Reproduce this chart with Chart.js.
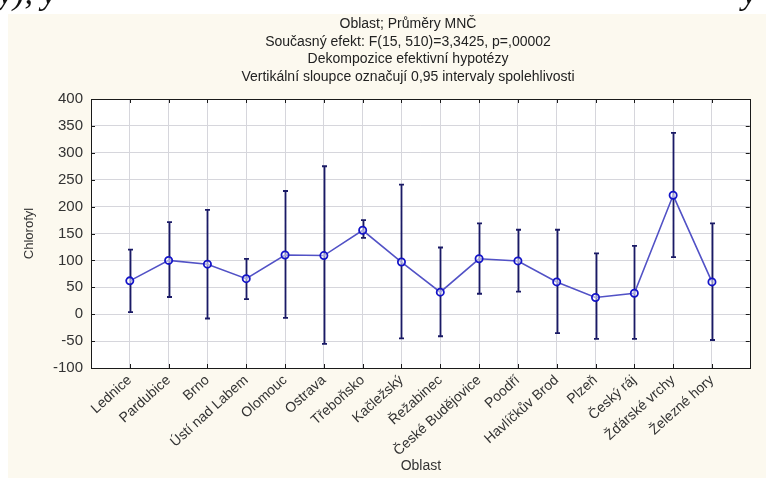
<!DOCTYPE html>
<html lang="cs">
<head>
<meta charset="utf-8">
<script src="https://cdn.jsdelivr.net/npm/chart.js@4.4.1/dist/chart.umd.min.js"></script>
<style>
  html, body { margin: 0; padding: 0; background: #ffffff; }
  #wrap { position: relative; width: 766px; height: 478px; overflow: hidden; }
  #chart { position: absolute; left: 0; top: 0; }
  #strip { position: absolute; left: 0; top: 0; width: 766px; height: 14px; overflow: hidden;
           font-family: "Liberation Serif", serif; font-style: italic; font-size: 34px; color: #111; }
  #strip span { position: absolute; top: -26px; white-space: pre; }
</style>
</head>
<body>
<div id="wrap">
  <canvas id="chart" width="766" height="478"></canvas>
  <div id="strip"><span style="left:-2px">y), y</span><span style="left:742px">y</span></div>
</div>
<script>
// Regions (Oblast) on the category axis
const categories = ['Lednice', 'Pardubice', 'Brno', 'Ústí nad Labem', 'Olomouc', 'Ostrava',
  'Třeboňsko', 'Kačležský', 'Řežabinec', 'České Budějovice', 'Poodří', 'Havlíčkův Brod',
  'Plzeň', 'Český ráj', 'Žďárské vrchy', 'Železné hory'];

// Least-squares means of chlorophyll per region
const means = [62, 100, 93, 66, 110, 109, 156, 97, 41, 103, 99, 60, 31, 39, 221, 60];

// 0.95 confidence interval bounds
const upper = [120, 171, 194, 103, 229, 275, 175, 241, 124, 169, 157, 157, 113, 127, 337, 169];
const lower = [4, 32, -8, 28, -7, -55, 142, -45, -41, 38, 42, -35, -46, -46, 106, -48];

// Value axis ticks
const yTicks = [-100, -50, 0, 50, 100, 150, 200, 250, 300, 350, 400];

const titleLines = [
  'Oblast; Průměry MNČ',
  'Současný efekt: F(15, 510)=3,3425, p=,00002',
  'Dekompozice efektivní hypotézy',
  'Vertikální sloupce označují 0,95 intervaly spolehlivosti'
];

const FONT = '"Liberation Sans", Arial, sans-serif';

const panelPlugin = {
  id: 'panel',
  beforeDraw(chart) {
    const { ctx, chartArea: a } = chart;
    ctx.save();
    ctx.fillStyle = '#fcf9ef';
    ctx.fillRect(8, 14, chart.width - 8, chart.height - 14);
    ctx.fillStyle = '#ffffff';
    ctx.fillRect(a.left, a.top, a.right - a.left, a.bottom - a.top);
    ctx.restore();
  },
  beforeDatasetsDraw(chart) {
    // confidence interval whiskers
    const { ctx } = chart;
    const xs = chart.scales.x, ys = chart.scales.y;
    ctx.save();
    ctx.strokeStyle = '#1a1a66';
    ctx.lineWidth = 1.8;
    ctx.beginPath();
    categories.forEach((c, i) => {
      const x = Math.round(xs.getPixelForValue(i)) + 0.5;
      const yt = ys.getPixelForValue(upper[i]);
      const yb = ys.getPixelForValue(lower[i]);
      ctx.moveTo(x, yt); ctx.lineTo(x, yb);
      ctx.moveTo(x - 2.5, yt); ctx.lineTo(x + 2.5, yt);
      ctx.moveTo(x - 2.5, yb); ctx.lineTo(x + 2.5, yb);
    });
    ctx.stroke();
    ctx.restore();
  },
  afterDraw(chart) {
    const { ctx, chartArea: a } = chart;
    const xs = chart.scales.x, ys = chart.scales.y;
    ctx.save();
    // frame
    ctx.strokeStyle = '#1a1a1a';
    ctx.lineWidth = 1;
    ctx.strokeRect(Math.round(a.left) + 0.5, Math.round(a.top) + 0.5,
      Math.round(a.right - a.left) - 1, Math.round(a.bottom - a.top));
    // inward tick marks on all four sides
    ctx.beginPath();
    categories.forEach((c, i) => {
      const x = Math.round(xs.getPixelForValue(i)) + 0.5;
      ctx.moveTo(x, a.top); ctx.lineTo(x, a.top + 4);
      ctx.moveTo(x, a.bottom); ctx.lineTo(x, a.bottom - 4);
    });
    yTicks.forEach(v => {
      const y = Math.round(ys.getPixelForValue(v)) + 0.5;
      ctx.moveTo(a.left, y); ctx.lineTo(a.left + 4, y);
      ctx.moveTo(a.right - 1, y); ctx.lineTo(a.right - 5, y);
    });
    ctx.stroke();
    // heading
    ctx.fillStyle = '#222222';
    ctx.font = '14px ' + FONT;
    ctx.textAlign = 'center';
    ctx.textBaseline = 'middle';
    titleLines.forEach((t, i) => ctx.fillText(t, 408, 24 + i * 17.7));
    ctx.restore();
  }
};

new Chart(document.getElementById('chart'), {
  type: 'line',
  data: {
    datasets: [{
      data: means.map((m, i) => ({ x: i, y: m })),
      borderColor: '#5252c6',
      borderWidth: 1.6,
      tension: 0,
      pointRadius: 3.6,
      pointHoverRadius: 3.6,
      pointBorderWidth: 1.8,
      pointBorderColor: '#1414c8',
      pointBackgroundColor: 'rgba(255,255,255,0.5)'
    }]
  },
  options: {
    responsive: false,
    animation: false,
    events: [],
    layout: { padding: { left: 0, right: 5, top: 99, bottom: 0 } },
    plugins: { legend: { display: false }, tooltip: { enabled: false }, title: { display: false } },
    scales: {
      x: {
        type: 'linear',
        min: -1,
        max: categories.length,
        afterBuildTicks(scale) {
          const t = [];
          for (let v = -1; v <= categories.length; v++) t.push({ value: v });
          scale.ticks = t;
        },
        afterFit(scale) { scale.height = 110; },
        grid: { color: '#d6d6dc', lineWidth: 1, drawTicks: false },
        border: { display: false },
        ticks: {
          autoSkip: false,
          minRotation: 42,
          maxRotation: 42,
          padding: 4,
          color: '#333333',
          font: { family: FONT, size: 14 },
          callback: v => (v >= 0 && v < categories.length ? categories[v] : '')
        },
        title: {
          display: true,
          text: 'Oblast',
          color: '#333333',
          font: { family: FONT, size: 14 },
          padding: { top: 0, bottom: 3 }
        }
      },
      y: {
        min: -100,
        max: 400,
        afterBuildTicks(scale) { scale.ticks = yTicks.map(v => ({ value: v })); },
        afterFit(scale) { scale.width = 91; },
        grid: { color: '#d6d6dc', lineWidth: 1, drawTicks: false },
        border: { display: false },
        ticks: {
          padding: 8,
          color: '#333333',
          font: { family: FONT, size: 15 }
        },
        title: {
          display: true,
          text: 'Chlorofyl',
          color: '#333333',
          font: { family: FONT, size: 13 },
          padding: { top: 22, bottom: 0 }
        }
      }
    }
  },
  plugins: [panelPlugin]
});
</script>
</body>
</html>
